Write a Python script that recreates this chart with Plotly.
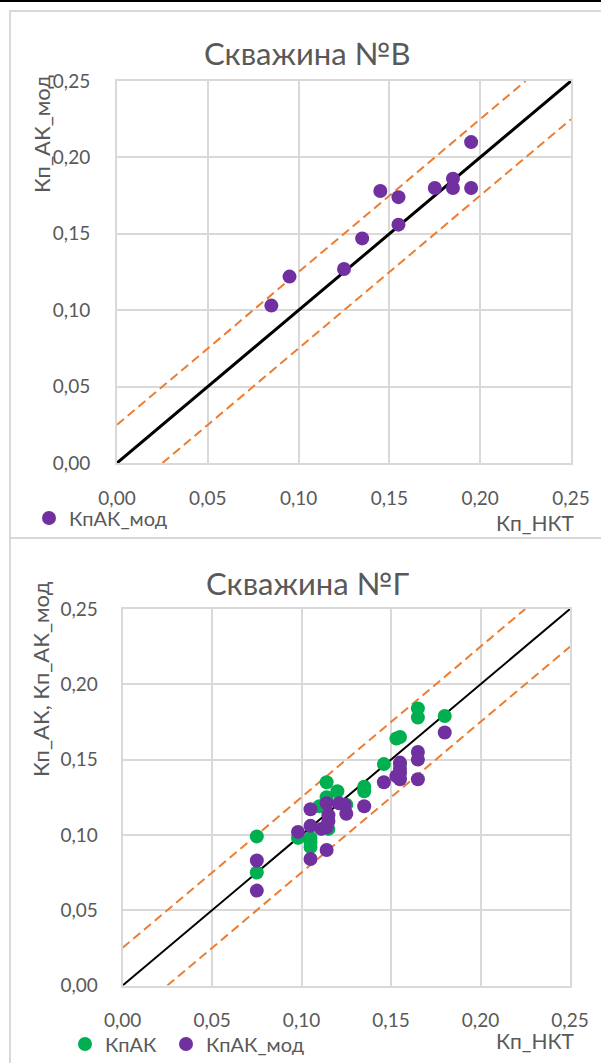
import plotly.graph_objects as go

W, H = 601, 1063

# ---------------- data ----------------
# Скважина №В
b_mod_x = [0.085, 0.095, 0.125, 0.135, 0.145, 0.155, 0.155, 0.175, 0.185, 0.185, 0.195, 0.195]
b_mod_y = [0.103, 0.122, 0.127, 0.147, 0.178, 0.174, 0.156, 0.180, 0.186, 0.180, 0.210, 0.180]

# Скважина №Г
g_ak_x = [0.075, 0.075, 0.098, 0.105, 0.105, 0.105, 0.110, 0.114, 0.114, 0.120, 0.115,
          0.114, 0.125, 0.135, 0.135, 0.146, 0.153, 0.155, 0.155, 0.165, 0.165, 0.180]
g_ak_y = [0.099, 0.075, 0.098, 0.098, 0.095, 0.092, 0.119, 0.135, 0.125, 0.129, 0.104,
          0.106, 0.120, 0.132, 0.129, 0.147, 0.164, 0.165, 0.147, 0.184, 0.178, 0.179]
g_mod_x = [0.075, 0.075, 0.098, 0.105, 0.105, 0.105, 0.111, 0.114, 0.115, 0.115, 0.114,
           0.121, 0.124, 0.125, 0.114, 0.135, 0.146, 0.155, 0.155, 0.155, 0.155, 0.153,
           0.165, 0.165, 0.165, 0.180]
g_mod_y = [0.083, 0.063, 0.102, 0.117, 0.106, 0.084, 0.104, 0.105, 0.109, 0.113, 0.121,
           0.121, 0.120, 0.114, 0.090, 0.119, 0.135, 0.148, 0.144, 0.141, 0.137, 0.139,
           0.155, 0.150, 0.137, 0.168]

line_x = [0.0, 0.25]
tolerance = 0.025
tick_vals = [0.0, 0.05, 0.10, 0.15, 0.20, 0.25]
tick_text = ["0,00", "0,05", "0,10", "0,15", "0,20", "0,25"]

titles = ["Скважина №В", "Скважина №Г"]
y_titles = ["Кп_АК_мод", "Кп_АК, Кп_АК_мод"]
x_title = "Кп_НКТ"

# ---------------- style ----------------
FONT = "Lato"
TXT = "#595959"
GRID = "#d9d9d9"
PURPLE = "#7030A0"
GREEN = "#00B050"
ORANGE = "#ED7D31"


def px_x(p):
    return p / W


def px_y(p):
    return 1 - p / H


fig = go.Figure()


def add_lines(xa, ya, black_w):
    upper_x = [line_x[0], line_x[1] - tolerance]
    upper_y = [v + tolerance for v in upper_x]
    lower_x = [line_x[0] + tolerance, line_x[1]]
    lower_y = [v - tolerance for v in lower_x]
    for lx, ly in [(upper_x, upper_y), (lower_x, lower_y)]:
        fig.add_trace(go.Scatter(x=lx, y=ly, mode="lines", xaxis=xa, yaxis=ya,
                                 line=dict(color=ORANGE, width=2, dash="9px,5px"),
                                 showlegend=False, hoverinfo="skip"))
    fig.add_trace(go.Scatter(x=line_x, y=line_x, mode="lines", xaxis=xa, yaxis=ya,
                             line=dict(color="black", width=black_w),
                             showlegend=False, hoverinfo="skip"))


# top chart
add_lines("x", "y", 3)
fig.add_trace(go.Scatter(x=b_mod_x, y=b_mod_y, mode="markers", name="КпАК_мод",
                         marker=dict(color=PURPLE, size=14), xaxis="x", yaxis="y",
                         legend="legend"))
# bottom chart
add_lines("x2", "y2", 2)
fig.add_trace(go.Scatter(x=g_ak_x, y=g_ak_y, mode="markers", name="КпАК",
                         marker=dict(color=GREEN, size=14), xaxis="x2", yaxis="y2",
                         legend="legend2", legendwidth=56))
fig.add_trace(go.Scatter(x=g_mod_x, y=g_mod_y, mode="markers", name="КпАК_мод",
                         marker=dict(color=PURPLE, size=14), xaxis="x2", yaxis="y2",
                         legend="legend2"))

tickfont = dict(family=FONT, size=19, color=TXT)


def xaxis(dom, anchor):
    return dict(domain=dom, anchor=anchor, range=[0, 0.25], tickvals=tick_vals,
                ticktext=tick_text, showgrid=True, gridcolor=GRID, gridwidth=2,
                zeroline=False, showline=True, linecolor=GRID, linewidth=2, mirror=True,
                tickfont=tickfont, ticks="", ticklabelstandoff=17, fixedrange=True,
                automargin=False)


def yaxis(dom, anchor, standoff):
    return dict(domain=dom, anchor=anchor, range=[0, 0.25], tickvals=tick_vals,
                ticktext=tick_text, showgrid=True, gridcolor=GRID, gridwidth=2,
                zeroline=False, showline=True, linecolor=GRID, linewidth=2, mirror=True,
                tickfont=tickfont, ticks="", ticklabelstandoff=standoff, fixedrange=True,
                automargin=False)


annotations = []
tfont = dict(family=FONT, size=31, color=TXT)
afont = dict(family=FONT, size=21, color=TXT)
annotations.append(dict(text=titles[0], x=px_x(307), y=px_y(53), xref="paper", yref="paper",
                        showarrow=False, font=tfont, xanchor="center", yanchor="middle"))
annotations.append(dict(text=titles[1], x=px_x(307), y=px_y(583), xref="paper", yref="paper",
                        showarrow=False, font=tfont, xanchor="center", yanchor="middle"))
annotations.append(dict(text=y_titles[0], x=px_x(42), y=px_y(134), xref="paper", yref="paper",
                        showarrow=False, font=dict(family=FONT, size=22, color=TXT),
                        textangle=-90, xanchor="center", yanchor="middle"))
annotations.append(dict(text=y_titles[1], x=px_x(40), y=px_y(679), xref="paper", yref="paper",
                        showarrow=False, font=dict(family=FONT, size=22, color=TXT),
                        textangle=-90, xanchor="center", yanchor="middle"))
annotations.append(dict(text=x_title, x=px_x(576), y=px_y(522), xref="paper", yref="paper",
                        showarrow=False, font=afont, xanchor="right", yanchor="middle"))
annotations.append(dict(text=x_title, x=px_x(576), y=px_y(1040), xref="paper", yref="paper",
                        showarrow=False, font=afont, xanchor="right", yanchor="middle"))

shapes = [
    dict(type="rect", xref="paper", yref="paper", x0=px_x(10), x1=px_x(620),
         y0=px_y(538), y1=px_y(11), line=dict(color=GRID, width=2), layer="below"),
    dict(type="rect", xref="paper", yref="paper", x0=px_x(10), x1=px_x(620),
         y0=px_y(1080), y1=px_y(538), line=dict(color=GRID, width=2), layer="below"),
    dict(type="line", xref="paper", yref="paper", x0=0, x1=1, y0=px_y(1), y1=px_y(1),
         line=dict(color="black", width=2)),
]

lfont = dict(family=FONT, size=20, color=TXT)
fig.update_layout(
    template="none",
    width=W, height=H, autosize=False,
    margin=dict(l=0, r=0, t=0, b=0, pad=0, autoexpand=False),
    paper_bgcolor="white", plot_bgcolor="white",
    xaxis=xaxis([px_x(117), px_x(571)], "y"),
    yaxis=yaxis([px_y(463), px_y(81)], "x", 21),
    xaxis2=xaxis([px_x(122.6), px_x(570)], "y2"),
    yaxis2=yaxis([px_y(985.5), px_y(609)], "x2", 19),
    annotations=annotations,
    shapes=shapes,
    legend=dict(x=px_x(29), y=px_y(518), xanchor="left", yanchor="middle",
                orientation="h", font=lfont, bgcolor="rgba(0,0,0,0)",
                itemsizing="trace", borderwidth=0),
    legend2=dict(x=px_x(65), y=px_y(1044), xanchor="left", yanchor="middle",
                 orientation="h", font=lfont, bgcolor="rgba(0,0,0,0)",
                 itemsizing="trace", borderwidth=0),
    showlegend=True,
)

fig.write_html(
    "out.html",
    config={"responsive": False, "displayModeBar": False},
    post_script="document.body.style.margin='0';document.body.style.overflow='hidden';",
)
